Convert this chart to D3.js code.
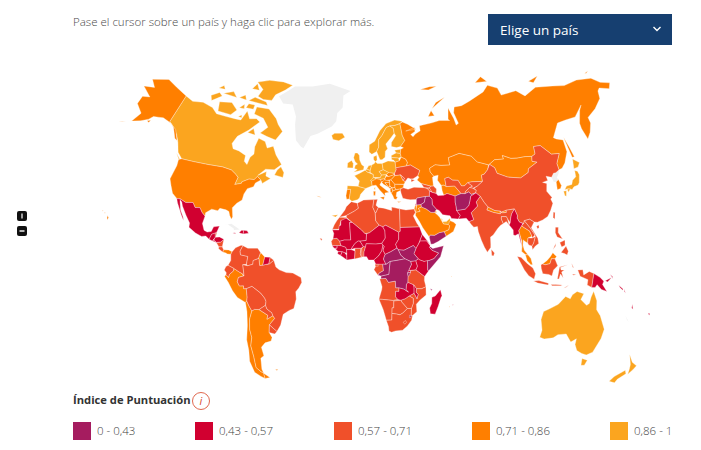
<!DOCTYPE html>
<html lang="es"><head><meta charset="utf-8">
<script src="https://cdn.jsdelivr.net/npm/d3@7"></script>
<style>html,body{margin:0;padding:0;background:#fff;overflow:hidden}svg{display:block}text{font-family:"Open Sans",sans-serif}</style>
</head><body><svg id="c" width="701" height="450"></svg>
<script>
const legendLabels=["0 - 0,43","0,43 - 0,57","0,57 - 0,71","0,71 - 0,86","0,86 - 1"];
const legendColors=["#a51c5f","#d10030","#f0502a","#ff7f00","#fba51f"];
const noDataColor="#f0f0f0";
// outlines: "lon,lat lon,lat ..."
const band0=[
["Syria","36,36 36.5,36.7 42,37.2 41,34.4 38.8,33.4 36,33.3 35.9,34.8"],
["Iraq","42,37.2 44.5,37.2 46,35.8 46,33 48.5,30.5 47.8,30 47,29.1 44.8,29.2 42,31 39,32.2 38.8,33.4 41,34.4"],
["Afghanistan","61,36.5 65,37.5 67.5,37.3 70,38 71.5,36.7 74.5,37.3 71,36 70,33.5 69,31.5 66.5,29.9 61,29.5 61,31.5 60.7,33.5"],
["Yemen","42.7,16.5 43.3,17.5 46,17.3 49,18.6 52,19 53.1,16.7 48,14 45,12.8 43.5,12.7"],
["South Sudan","23.5,10 27,9.7 32.8,12.2 34.3,10.5 33,7.8 35.5,5 33.9,4 30.8,3.6 27.5,5 25,7"],
["Somalia","43.2,11.4 44.5,10.4 51.2,11.8 49,6 41.5,-1.7 41,-1 41,4 42,4 45,5 48,8 44,9.5 42.7,11"],
["CAR","15.5,7.5 19,9 22.8,11 23.5,10 25,7 27.5,5 22.5,4.2 18.5,3.6 16,2 14.5,5"],
["DRC","12.2,-6 13,-5.8 13,-4.5 17.7,-3.5 18,0 18.5,3.6 22.5,4.2 27.5,5 30.8,3.6 31.3,2 29.6,-1.4 29,-2.7 29.3,-4.4 29.3,-8 28.5,-9 28.3,-12 29.8,-13.4 27,-11.7 24,-11 22,-11 21.7,-7.3 17.5,-8 16,-5.8"],
["Congo","13,-4.5 17.7,-3.5 18,0 18.5,3.6 16,2 14,2.2 14.5,-1.5 12,-2.8 11.2,-4"],
["Burundi","29,-2.7 30.7,-2.4 30,-4.4 29.3,-4.4"],
["Eswatini","31,-25.9 32,-26 32,-27 31,-27.2"],
["Comoros","43.2,-11.4 44.4,-12 43.6,-12.4"]
];
const band1=[
["Mexico","-117.1,32.5 -114.8,32.5 -111,31.3 -106.5,31.7 -104.5,29.5 -101.5,29.7 -99.5,27.5 -97.2,25.9 -97.8,22.3 -96,19 -94,18.2 -91.5,18.6 -90.5,21 -87,21.5 -88,18.5 -89,17.9 -91,17.2 -92.2,14.6 -94.5,16.2 -97,15.9 -101,17.4 -105.5,20 -105.7,22 -109,25.5 -112.5,29.5 -113.5,31.3 -114.8,32 -115.5,30"],
["Baja","-117.1,32.5 -115.5,30 -112,25.5 -109.8,23 -110.5,24.5 -113,27.5 -114.7,31.5 -114.8,32.5"],
["Guatemala","-92.2,14.6 -91,17.2 -89,17.9 -88.6,15.8 -90,13.8"],
["Honduras","-88.6,15.8 -86,16 -83.2,15 -84.8,13.5 -87.5,13.2 -89.3,14.3"],
["El Salvador","-90,13.8 -89.3,14.3 -87.7,13.2"],
["Haiti","-74.4,18.5 -71.7,18 -71.7,19.8 -73,19.9"],
["Dominican Republic","-71.7,18 -68.5,18.5 -69.5,19.7 -71.7,19.9"],
["Jamaica","-78.3,18.3 -76.3,18 -76.8,18.5"],
["Suriname","-57.2,6 -54,5.8 -54.5,2.3 -56.5,1.9 -58,1.5"],
["Iran","44.8,39.7 46.5,39 49,38.4 50,37.3 53.8,37.3 56,38 61,36.5 60.7,33.5 61,31.5 61,29.5 63,27 61.6,25.2 57.3,25.7 56.5,27 52,27.8 50,30 48.5,30.5 46,33 46,35.8 44.5,37.2"],
["Pakistan","61,29.5 66.5,29.9 69,31.5 70,33.5 71,36 74.5,37.3 77,35.5 74,33 74.5,31 70,28 71,24.5 68,23.7 66.5,25.4 61.6,25.2 63,27"],
["Myanmar","92.4,21 93.3,22 94,24 95,26 97.3,28.3 98.5,25 98,24 99,22 101,21.2 100,20.3 97.8,18 98.5,14 98.7,10 98,14 97.5,16.5 95.5,15.8 94.3,16 94.5,18.5"],
["PNG","141,-2.6 145,-4.3 147.7,-6 147.2,-7.5 150.5,-10.5 147,-9.8 144,-7.7 143,-9 141,-9.1"],
["New Britain","148.5,-5.8 152,-4.2 150,-6.3"],
["New Ireland","150.8,-2.8 153,-4.8 152.4,-3.8"],
["Solomon","157,-7.5 160,-9 160,-9.6 158,-8.5"],
["Solomon2","160.5,-9 162,-10.7 161,-10"],
["Vanuatu","167,-15 168,-17 167,-16.5"],
["Fiji","177.3,-17.5 178.6,-17.7 178.2,-18.3"],
["Mauritania","-17,21 -13,21 -13,23 -12,23.5 -12,26 -8.7,27.3 -5,25 -6.5,25 -5.5,15.5 -9.5,15.5 -12.2,14.8 -14,16.5 -16.4,16.2 -16,19"],
["Mali","-12.2,14.8 -9.5,15.5 -5.5,15.5 -6.5,25 -4.8,25 1,21 3.2,19 4.2,19 4,15.3 0.2,14.9 -1,15 -3,13.5 -5.3,10.3 -8,10.2 -8.5,11.5 -11.4,12.4"],
["Guinea-Bissau","-16.7,12.4 -13.7,12.5 -13.7,11 -15.5,11"],
["Guinea","-13.7,12.5 -11.4,12.4 -8.5,11.5 -8,10.2 -7.7,8.4 -9,8.5 -10.5,9 -13,9.2 -15,10.8 -13.7,11"],
["Sierra Leone","-13,9.2 -10.5,9 -11.4,7 -13.3,7.9"],
["Liberia","-11.4,7 -10.5,9 -9,8.5 -7.7,7 -7.5,4.4"],
["Ivory Coast","-8,10.2 -5.3,10.3 -2.8,9.5 -3,5.1 -7.5,4.4 -7.7,7 -7.7,8.4"],
["Burkina Faso","-5.3,10.3 -3,13.5 -1,15 0.2,14.9 2.3,12 0.9,11 -2.8,11"],
["Niger","0.2,14.9 4,15.3 4.2,19 6,19.5 12,23.5 14.2,22.6 15.5,20.5 15.7,16.5 13.6,13.7 10,13.3 4,13.5 3.6,11.7 2.3,12"],
["Nigeria","2.7,6.3 2.7,9 3.6,11.7 4,13.5 10,13.3 13.6,13.7 14.2,12.5 13.5,9.5 11.5,6.7 8.7,4.5 5.5,4.4 4.3,6.3"],
["Chad","14.2,22.6 16,23.4 24,19.5 23.9,15.7 22,13 22.8,11 19,9 15.5,7.5 14.2,9.9 15,12 14.2,12.5 13.6,13.7 15.7,16.5 15.5,20.5"],
["Cameroon","8.7,4.5 11.5,6.7 13.5,9.5 14.2,12.5 15,12 14.2,9.9 15.5,7.5 14.5,5 16,2 9.8,2.2"],
["Sudan","24,19.5 25,20 25,22 37,22 38.5,18 37,15 36,13 34.3,10.5 32.8,12.2 27,9.7 23.5,10 22.8,11 22,13 23.9,15.7"],
["Eritrea","37,15 38.5,18 43.2,12.5 41,14.5 37,14.5"],
["Ethiopia","36,13 37,14.5 41,14.5 43,12 42.7,11 44,9.5 48,8 45,5 42,4 39,3.5 36,4.5 35.5,5 33,7.8 34.3,10.5"],
["Kenya","33.9,4 35.5,5 36,4.5 39,3.5 41,4 41,-1 41.5,-1.7 39.3,-4.7 33.9,-1 34.8,1"],
["Uganda","30.8,3.6 33.9,4 34.8,1 33.9,-1 29.6,-1.4 31.3,2"],
["Rwanda","29,-1.4 30.7,-1.4 30.7,-2.4 29,-2.7"],
["Zambia","22,-13 24,-13 24,-11 27,-11.7 29.8,-13.4 28.3,-12 28.5,-9 29.3,-8 32.9,-9.4 33.2,-11 33.3,-14 30.3,-15.5 28,-17 25.3,-17.8 23.5,-17.5 22,-16"],
["Malawi","32.9,-9.4 34.7,-11.5 34.5,-13.5 35.8,-14.5 35.2,-17 34.3,-15.5 33.3,-14 33.2,-11"],
["Madagascar","49.3,-12 48,-13.5 46.3,-15.5 44.3,-16.2 44.4,-19.5 43.3,-22 44,-25 47,-25.2 48.5,-21 50,-16 50.5,-15.4"],
["Mauritius","57.3,-20 57.8,-20.1 57.5,-20.5"],
["Lebanon","35,33 35.7,33.2 36.5,34.5 36,34.6"]
];
const band2=[
["Belize","-89,17.9 -88,18.5 -88.3,16 -88.9,16"],
["Nicaragua","-87.5,13 -84.8,13.5 -83.2,15 -83.6,11 -85.7,11"],
["Costa Rica","-85.7,11 -83.6,11 -82.6,9.5 -83,8.3 -85.7,10"],
["Colombia","-77.3,8.6 -75.5,10.7 -72,12.2 -71.3,11.5 -72.5,9 -72,7 -67.5,6.2 -67.8,2 -70,1.8 -69.5,-4.2 -70.5,-3 -72,-2.2 -75.2,-0.2 -78.8,1.4 -77.5,4 -77.9,7.2"],
["Venezuela","-71.3,11.5 -72,12.2 -68,10.6 -62,10.7 -60,8.4 -61,5 -60.7,5.2 -64,4 -64,2 -67,1.2 -67.8,2 -67.5,6.2 -72,7 -72.5,9"],
["French Guiana","-54,5.8 -51.6,4.2 -54,2.2 -54.5,2.3"],
["Ecuador","-78.8,1.4 -75.2,-0.2 -75.5,-1.5 -78.3,-3.4 -79,-5 -80.3,-3.4 -80,-2.5 -81,-1 -80,0.8"],
["Bolivia","-69,-11 -65.4,-9.8 -60.5,-13.5 -58.3,-16.3 -57.7,-18 -58.2,-20 -62.6,-22.2 -65.5,-22 -67.2,-22.8 -68.5,-20 -69.5,-17.5 -69,-15.5"],
["Paraguay","-58.2,-20 -57.7,-22 -55,-24 -54.6,-25.6 -58.6,-27.3 -57.7,-25.3 -62.6,-22.2"],
["Brazil","-59.8,1.3 -60.7,5.2 -64,4 -64,2 -67,1.2 -70,1.8 -69.5,-4.2 -73,-5 -74,-7.3 -73,-9.5 -70.5,-9.5 -70.6,-11 -69,-11 -65.4,-9.8 -60.5,-13.5 -58.3,-16.3 -57.7,-18 -58.2,-20 -57.7,-22 -55,-24 -54.6,-25.6 -53.7,-27 -57.6,-30.2 -53.4,-33.7 -50.5,-30.5 -48.5,-26 -48,-25 -44,-23 -41,-22 -39,-17 -39,-13 -37,-11 -35,-8 -35.3,-5.3 -40,-2.8 -44,-2.5 -48,-1 -50,0.5 -51.6,4.2 -54,2.2 -56.5,1.9 -58,1.5"],
["Uruguay","-57.6,-30.2 -53.4,-33.7 -55,-34.9 -58.4,-34"],
["Ukraine","22.7,49 24,50.8 23.7,51.5 31,52 34,52.3 40,49.6 38.3,47.2 35,46 33.5,46 33.6,44.5 36,45.2 31.5,46.5 29.6,45 28.2,45.5 29.2,46.5 26.6,48.2 22.8,48"],
["Moldova","26.6,48.2 29.2,46.5 28.2,45.5"],
["Uzbekistan","56,45 58.5,45.5 61,44 64.5,43.7 66,41 68,41 70.5,42.3 73,40.5 71,40 68,38.3 67.5,37.3 65,37.5 61.5,41.3 56,41.3"],
["Kyrgyzstan","70.5,42.3 73.5,42.5 80.2,42.2 76,40.3 73,39.5 71,40 73,40.5"],
["Tajikistan","67.5,37.3 68,38.3 71,40 73,39.5 75,38.5 74.5,37.3 71.5,36.7 70,38"],
["Georgia","40,43.5 46,42 45,41.2 41.5,41.5"],
["Armenia","43.5,41 45,41.2 46.5,39.5 44.8,39.7"],
["Azerbaijan","45,41.2 46,42 47.8,42 49.5,40.5 49,38.4 46.5,39"],
["Turkey","26.3,41.7 28,42 31,41.2 35,42 41.5,41.5 43.5,41 44.8,39.7 44.5,37.2 42,37.2 36.5,36.7 36,36 32,36 30,36.3 27.3,37 26.3,39.5 26,40.8"],
["China","73.6,39.5 75,38.5 74.5,37.3 77,35.5 79,32.5 81,30.2 85,28.3 88.2,27.9 89,27.4 92,28 97.3,28.3 98.5,25 98,24 99,22 101.5,21.2 102.2,22.5 105.5,23 108,21.6 110,21.3 113.5,22.2 117,23.5 119.5,26 121.8,29 121,31 122,31.5 119.5,34.5 120.5,37.8 118,38.5 121.5,39 121.2,40.8 124.3,40 126.5,41.5 128,41.5 130.7,42.4 131,45 135,48.5 130,48.9 125,53 120.5,53.2 119.7,50.3 117,49.6 116,47.7 119,47 112,45 111,43.5 105,41.7 97,42.8 91,45 90.5,47.5 87.7,49.2 85.5,47 82.5,45.3 80.5,45 80.2,42.2 76,40.3"],
["Hainan","109,19.5 110.5,20 110.5,18.8 109.5,18.3"],
["Taiwan","120.2,23 121,25.2 122,25 121,22"],
["India","68,23.7 71,24.5 70,28 74.5,31 74,33 77,35.5 79,32.5 81,30.2 80,28.8 84,27.4 88.2,26.5 88.2,27.9 89,26.9 92,27 92,28 97.3,28.3 95,26 94,24 93.3,22 92,24 91.5,25 88.5,25.2 88.2,24 89,21.8 87,21 85,19.5 82,16.5 80.2,15.5 80,12 79.8,10.3 77.5,8 76,10.5 74.5,14 73,18.5 72.8,21 70.5,20.8 69,22.3"],
["Bangladesh","88.2,24 88.5,25.2 91.5,25 92,24 92.4,21 91,22.7 89,21.8"],
["Sri Lanka","80,9.5 81.8,7.5 81,6 80,6.3"],
["Laos","100,20.3 101.5,21.2 102.2,22.5 105,19 107.5,15.5 105.5,14.2 105.5,15 104.5,17.5 101,19.5"],
["Vietnam","102.2,22.5 105.5,23 108,21.6 105.7,19 109,14 109.2,11.5 107,10.4 105,8.7 104.8,10.4 106,11.7 107.5,14.7 107.5,15.5 105,19"],
["Cambodia","102.5,12 103,14.3 105.5,14.2 107.5,14.7 106,11.7 104.8,10.4 103,11"],
["Sumatra","95.3,5.6 97.5,5.2 101,2 104,0 106,-3 105.5,-5.8 102,-4 99,-1"],
["Java","105.3,-6.8 108.5,-6.5 114.5,-7.7 114.5,-8.7 108,-7.8"],
["Kalimantan","109,1.5 110,1.9 111.5,1.5 114.5,2 115.8,4.3 117.8,4.2 119,1 116.5,-1 116,-4 114,-3.3 110.3,-2.9 109,-0.2"],
["Sulawesi","119.5,-5.5 120,0.5 125,1.5 120.5,0.2 121,-1 123,-1 121.5,-2 123,-5 121,-3 120.5,-5.5"],
["West Papua","131,-1 134,-0.8 135,-3.3 138,-1.6 141,-2.6 141,-9.1 138,-8 138,-5.5 133,-4"],
["Sunda","116,-8.3 119,-8.3 123,-8.4 122,-8.9 117,-9"],
["Timor","124,-10 127,-8.4 125.5,-9.5"],
["Halmahera","127.5,2 128.5,0 127.8,0.5"],
["Seram","128,-3 130.5,-3.2 129,-3.5"],
["Luzon","120.5,18.5 122.3,18.4 121.8,16 124,13 120.8,14 120,16"],
["Mindanao","122,7 125.5,9.8 126.5,7.5 125.5,5.8 124,6.5"],
["Visayas","122,11.5 125.3,12.5 125,10.2 122.8,9.5"],
["Palawan","117.3,8.4 119.5,11.3 119.2,10"],
["Morocco","-5.9,35.8 -2,35.1 -1.2,32.5 -3.7,31 -8.7,28.7 -13,27.7 -9.8,31.5 -9,33.2"],
["Western Sahara","-13,27.7 -8.7,27.7 -8.7,26 -12,26 -13,21.3 -17,21.3 -16,23.7 -14.5,26"],
["Algeria","-2,35.1 2,36.7 8.6,36.9 8,33 9.5,30.2 9.8,26 12,23.5 6,19.5 3.2,19 1,21 -4.8,25 -8.7,27.7 -8.7,28.7 -3.7,31 -1.2,32.5"],
["Tunisia","8.6,36.9 11,37 10,34 11.5,32.9 10,30.2 9.5,30.2 8,33"],
["Libya","11.5,32.9 15,32.4 20,31 20,32.8 25,31.7 25,20 24,19.5 16,23.4 14.2,22.6 12,23.5 9.8,26 9.5,30.2 10,30.2"],
["Egypt","25,31.7 29,31 34.2,31.3 34.9,29.5 33.5,27.8 35.5,24 37,22 25,22"],
["Senegal","-16.4,16.2 -14,16.5 -12.2,14.8 -11.4,12.4 -16.7,12.4 -17.4,14.7"],
["Ghana","-2.8,11 0.9,11 0.5,8 1.2,6 -3,5 -2.8,9.5"],
["Togo","0.9,11 1.4,11 1.6,6.2 1.2,6 0.5,8"],
["Benin","1.4,11 2.3,12 3.6,11.7 2.7,9 2.7,6.3 1.6,6.2"],
["Gabon","9.8,1 11.3,2.2 14,2.2 14.5,-1.5 12,-2.8 11.2,-4 8.8,-1"],
["Equatorial Guinea","9.5,2.2 11.3,2.2 11.3,1 9.5,1"],
["Tanzania","33.9,-1 39.3,-4.7 39.3,-7 40.4,-10.4 37.8,-11.5 34.7,-11.5 32.9,-9.4 29.3,-8 29.3,-4.4 30.7,-2.4 30.7,-1.4"],
["Angola","12.2,-6 16,-5.8 17.5,-8 21.7,-7.3 22,-11 24,-11 24,-13 22,-13 22,-16 23.5,-17.5 20.5,-18 13.8,-17.4 11.8,-17.3 13.5,-12 13.7,-10.5"],
["Mozambique","34.7,-11.5 37.8,-11.5 40.4,-10.4 40.7,-15 37,-17.8 34.9,-20 35.5,-24 32.9,-26 32,-26 32,-22.3 33,-19.5 32.9,-16.8 30.3,-15.5 33.3,-14 34.3,-15.5 35.2,-17 35.8,-14.5 34.5,-13.5"],
["Zimbabwe","25.3,-17.8 28,-17 30.3,-15.5 32.9,-16.8 33,-19.5 32,-22.3 29.5,-22.3 26,-19"],
["Namibia","11.8,-17.3 13.8,-17.4 20.5,-18 23.5,-17.5 25.3,-17.8 21,-18.3 21,-22 20,-22 20,-28.5 16.5,-28.6 14.5,-23"],
["Botswana","21,-18.3 25.3,-17.8 26,-19 29.5,-22.3 26.8,-24.7 25,-25.7 22.8,-25.3 20,-25 20,-22 21,-22"],
["South Africa","16.5,-28.6 20,-28.5 20,-25 22.8,-25.3 25,-25.7 26.8,-24.7 29.5,-22.3 32,-22.3 32,-26 32.9,-26 32.5,-28.5 30,-31.5 27,-33.7 22.5,-34.1 20,-34.8 18.3,-34.2 18,-32"],
["Lesotho","27.2,-29.6 28.7,-28.7 29.4,-29.7 28.2,-30.6"],
["Cape Verde","-24.5,16.6 -23,16 -23.5,15"]
];
const band3=[
["Alaska","-141,69.6 -141,60.3 -137,59 -133,55.5 -131,55 -135,58.5 -140,60 -146,60.5 -149,60 -152,59.5 -154,58 -158,56.3 -163,54.8 -160,58.5 -165,60.5 -165,63 -161,64 -168,65.6 -162,67 -166,68.5 -157,71.2 -150,70.5"],
["USA","-123,49 -115,49 -105,49 -95,49 -88.5,48.2 -84.5,46.5 -82.5,45.3 -83,42 -79,42.8 -79,43.5 -75,45 -71.5,45 -70,46.5 -67,45 -70,43.5 -70.5,41.7 -74,40.6 -75.5,38 -76,35 -79,33.3 -81.3,31 -80,26.5 -80.5,25.2 -82,27 -83,29 -85,29.7 -89,30.2 -90,29 -94,29.5 -97.3,27.5 -97.2,25.9 -99.5,27.5 -101.5,29.7 -104.5,29.5 -106.5,31.7 -111,31.3 -114.8,32.5 -117.1,32.5 -120.5,34.5 -122.5,37.5 -124.3,40.3 -124,46 -124.7,48.4"],
["Hawaii","-156,20.6 -155,19.8 -155.8,19 -156,19.7"],
["Oahu","-158.3,21.6 -157.6,21.4 -158,21.2"],
["Kauai","-159.8,22.2 -159.3,22.1 -159.5,21.8"],
["Aleutians","-169.9,52.8 -166,53.8 -168,53.2"],
["Kodiak","-154.5,57.3 -152.5,58 -153,57"],
["Panama","-83,8.3 -82.6,9.5 -79.5,9.5 -77.3,8.6 -77.9,7.2 -80,7.4 -81,7.9"],
["Guyana","-60,8.4 -57.2,6 -58,1.5 -59.8,1.3 -60.7,5.2 -61,5"],
["Peru","-81.3,-4.5 -80.3,-3.4 -79,-5 -78.3,-3.4 -75.5,-1.5 -75.2,-0.2 -72,-2.2 -70.5,-3 -69.9,-4.2 -73,-5 -74,-7.3 -73,-9.5 -70.5,-9.5 -70.6,-11 -69,-11 -69,-15.5 -69.5,-17.5 -70.4,-18.3 -75,-15.5 -77.5,-12 -79.5,-7.5"],
["Chile","-70.4,-18.3 -69.5,-17.5 -68.5,-20 -67.2,-22.8 -69.5,-27 -70.5,-32 -70,-36 -71.5,-40 -71.8,-45 -72.5,-50 -70,-52 -68.5,-52.5 -68.6,-55 -71,-54 -74.5,-52 -75.5,-47 -73.7,-42 -73.5,-37 -71.5,-30 -70.3,-23"],
["Argentina","-67.2,-22.8 -65.5,-22 -62.6,-22.2 -57.7,-25.3 -58.6,-27.3 -54.6,-25.6 -53.7,-27 -57.6,-30.2 -58.4,-34 -57,-36.5 -58,-38.3 -62,-39 -65,-41 -65,-45 -67.5,-46 -69,-51 -68.5,-52.5 -70,-52 -72.5,-50 -71.8,-45 -71.5,-40 -70,-36 -70.5,-32 -69.5,-27"],
["Tierra del Fuego","-68.6,-52.7 -68.6,-55 -65,-54.8"],
["Falklands","-60,-51.5 -58,-51.5 -59,-52"],
["Azores","-28.5,38.6 -25.3,37.9 -27,38"],
["Reunion","55.3,-21 55.8,-21 55.5,-21.4"],
["Seychelles","55.3,-4.5 55.8,-4.5 55.5,-5"],
["Russia","28,60.5 30,59.9 28,59.4 27.5,57.6 28,56 31,55 32,53.5 31,52 34,52.3 40,49.6 38.3,47.2 39,46.5 37.5,45.3 40,43.5 46,42 47.8,42 48,46 49,46.5 47,48.5 47,50.2 51,51.5 55,51 61,50.8 61,54 69,55.3 77,53.5 80,50.8 87,49 92,50.8 98,50.5 98,52 103,50.3 107,50 113,50 117,49.6 119.7,50.3 120.5,53.2 125,53 130,48.9 135,48.5 131,45 130.7,42.4 133,42.8 136,44.5 140.3,48.5 141,53 137,54 135.5,54.7 142,59.3 148,59.5 155,59.5 163,62.5 160,61 156,57 155.7,55 156.7,51 160,53 163,56 163,58 170,60 177,62.5 179,64.8 181,65.5 187,64.4 189.9,66 184,67 180,69 170,70 160,69.8 152,71 140,72.5 130,71 125,73.5 113,73.5 112,76 105,77.7 100,76 87,74 80,73 74,73 72.5,71 74,67 72,66.5 71.5,69 69,73 67,69 68,68.5 60,69 54,68.5 44,68 44,66 40,65 38,64 36.5,65 40,66 40,67.5 33,66.5 41,66.8 35,69 31,70 29,69.5 29.5,67.5 30,65 31.5,62.8"],
["Novaya Zemlya","52,71 56,73.5 68,76.8 60,75.5 55,73 57,71"],
["Franz Josef","48,80.5 56,81 62,80.8 55,80"],
["Sakhalin","142,54 143,50 143.5,46 142,46 142,50"],
["Severnaya Zemlya","95,79.5 105,79 100,81"],
["New Siberian","137,75 145,75.5 140,74"],
["Wrangel","178,71 181,71.3 179,70.8"],
["Kazakhstan","47,48.5 49,46.5 52,46.8 51,44.5 53,42 54.7,42 56,41.3 56,45 58.5,45.5 61,44 64.5,43.7 66,41 68,41 70.5,42.3 73.5,42.5 80.2,42.2 80.5,45 82.5,45.3 85.5,47 87,49 80,50.8 77,53.5 69,55.3 61,54 61,50.8 55,51 51,51.5 47,50.2"],
["Turkmenistan","53,42 54.7,42 56,41.3 61.5,41.3 65,37.5 61,36.5 56,38 53.8,37.3 53,39.5"],
["Mongolia","87.7,49.2 92,50.8 98,50.5 98,52 103,50.3 107,50 113,50 117,49.6 116,47.7 119,47 112,45 111,43.5 105,41.7 97,42.8 91,45 90.5,47.5"],
["Belarus","23.5,54 26.5,54.5 28,56 31,55 32,53.5 31,52 23.7,51.5"],
["Portugal","-9,41.9 -6.7,41.9 -7,39.5 -7.3,37.2 -9,37 -9.5,38.8"],
["Italy","7,45.9 7.5,43.7 10,44 12.5,41.5 16,38.5 15.8,40 18.5,40.2 16,41.8 12.5,44 13.8,45.6 13,46.6 10.3,47"],
["Sicily","12.5,38 15.5,38.2 15,36.7"],
["Sardinia","8.3,41 9.7,41 9.5,39 8.5,39"],
["Slovenia","13.5,45.5 13,46.6 16,46.8 15.5,45.5"],
["Croatia","13.8,45.2 16,46.5 19,45.8 19,45 16,45 18.5,42.5 15,44.2"],
["Bosnia","16,45 19,45 19.2,43.3 18.5,42.6"],
["Serbia","19,45.9 20,46.2 22.5,44 22.5,42.4 20.5,42.3 19.2,43.3"],
["Montenegro","18.5,42.5 19.2,43.3 20,42.5 19.3,41.9"],
["Albania","19.3,41.9 20.5,42.3 21,40.6 20,39.7 19.4,40.5"],
["North Macedonia","20.5,42.3 22.5,42.4 23,41.3 21,40.8"],
["Greece","20,39.7 21,40.8 23,41.3 26.3,41.7 26,40.8 23.5,40 23,38 24,37.7 23,36.5 21.7,36.8 21,38.3"],
["Crete","23.6,35.5 26.3,35.2 24.5,35"],
["Bulgaria","22.5,44 28.5,43.6 27.8,42 26.3,41.7 23,41.3 22.5,42.4"],
["Romania","20,46.2 22.8,48 26.6,48.2 28.2,45.5 29.6,45 28.6,43.7 22.5,44"],
["Hungary","16,46.8 17,48 18.5,47.8 22,48.4 22.8,48 20,46.2 16.5,45.9"],
["Slovakia","17,48.7 18.8,49.6 22.5,49 22,48.4 18.5,47.8"],
["Jordan","36,33.3 38.8,33.4 39,32.2 37,31.5 38,30 35,29.5 35.5,31.5"],
["Israel","34.3,31.3 35,29.5 35.5,31.5 35.7,33.2 35,33"],
["Saudi Arabia","35,29.5 38,30 37,31.5 39,32.2 42,31 44.8,29.2 47,29.1 48.5,28 50,26.5 51,24.7 52,23 55,22.7 55.7,22 55,20 52,19 49,18.6 46,17.3 43.3,17.5 42.7,16.5 39,21.5 37,25 34.9,28"],
["Oman","55,22.7 55.7,22 55,20 52,19 53.1,16.7 57.7,19 59.8,22.5 58.5,23.7 56.5,24.5 55.8,24"],
["Kuwait","47.8,30 48.4,29 47,29.1"],
["Nepal","80,28.8 81,30.2 85,28.3 88.2,27.9 88.2,26.5 84,27.4"],
["Bhutan","89,26.9 89,27.4 92,28 92,27"],
["Thailand","97.8,18 100,20.3 101,19.5 104.5,17.5 105.5,15 103,14.3 102.5,12 101,12.7 100,13.5 99.5,11 100,8.5 102,6.2 100.3,6.5 98.3,8 98.7,10 99,13"],
["Malaysia","100.3,6.5 102,6.2 103.4,4.5 104,1.5 103,1.6 101,3.5"],
["Sabah-Sarawak","109.7,1.9 111.5,1.5 114.5,2 115.8,4.3 117.8,4.2 119,5.2 117,7 115.3,5.3 113,3.5 110,1.9"],
["South Korea","126.6,37.8 128.3,38.6 129.4,36 128.5,34.8 126.3,34.5"]
];
const band4=[
["Canada","-141,69.6 -135,69 -128,70 -120,69.5 -115,68 -108,68 -100,68 -96,68 -94,71.5 -90,69 -85,69.5 -81.5,68.5 -87,65 -93,62 -94.5,59 -92.5,57 -88,56.5 -82.5,55 -82,52.5 -79.5,51.3 -79,54.5 -77,56 -78,59 -77.5,62.5 -72,61.5 -69,59 -65,60 -61.5,56.5 -56,52.5 -60,50 -66,50 -70,47 -65,49 -64.5,47 -61,46 -65.5,43.5 -67,45 -70,46.5 -71.5,45 -75,45 -79,43.5 -79,42.8 -83,42 -82.5,45.3 -84.5,46.5 -88.5,48.2 -95,49 -105,49 -115,49 -123,49 -127,51 -130,54.5 -133,57 -137,59 -141,60.3"],
["Baffin","-62,66 -65,62.5 -72,63.5 -78,64.5 -74,67 -80,70 -88,71 -88,73.5 -78,73.5 -70,70.5 -67,68.5"],
["Victoria","-105,69 -115,69 -117,72 -108,73 -102,71"],
["Banks","-123,71.5 -117,74 -120,74.8 -125,73"],
["Ellesmere","-90,77 -85,76.3 -78,76.5 -76,78.5 -68,80.5 -62,82.3 -70,83 -82,82.8 -92,81.5 -87,79.5"],
["Devon","-96,75 -80,74.6 -82,75.7 -92,76.5"],
["Southampton","-87,64 -81,63.5 -84,65.8"],
["Newfoundland","-59,47.7 -53,46.8 -53,49 -56,51.5 -58,50"],
["Vancouver","-128,50.7 -123.5,48.4 -125,48.8"],
["Axel Heiberg","-96,79 -90,79 -92,81"],
["Melville","-117,75 -106,75 -110,76.5"],
["Bathurst","-104,75.2 -98,75 -100,76.5"],
["Prince Patrick","-122,76 -117,76.3 -119,77.3"],
["Somerset","-96,72.5 -90,72.5 -90,74 -95,74"],
["King William","-99,69 -96,68.8 -97,69.8"],
["Prince of Wales","-101,72 -97,72 -98,73.5"],
["Iceland","-24,65.5 -22,66.4 -16,66.5 -13.7,65 -18,63.5 -22.5,64"],
["UK","-5.5,50 1.3,51.2 1.7,52.7 0,53.5 -1.6,55.5 -2,57.6 -3.5,58.6 -5.2,58.5 -6,56.5 -4.8,54.8 -3,53.8 -4.5,53.2 -5,51.7 -3,51.3"],
["Ireland","-10,52 -6,52 -6,54 -7.3,55.3 -10,54.2"],
["Spain","-9,43.7 -1.8,43.4 3.2,42.4 0,39.5 -0.7,37.7 -2,36.8 -5.5,36 -7.3,37.2 -7,39.5 -6.7,41.9 -9,41.9"],
["France","-1.8,43.4 3.2,42.4 7.5,43.7 7,45.9 8.2,47.6 8.2,49 4.5,50 2.5,51 -1.5,49.5 -4.7,48.4 -1.2,46"],
["Belgium","2.5,51 4.5,50 6,50 6,51 3.5,51.4"],
["Netherlands","3.5,51.4 6,51 7,53.3 4.8,53"],
["Germany","6,51 6,50 8.2,49 8.2,47.6 13,47.5 13.8,48.7 12.2,50.3 15,51 14.3,53.9 11,54 9.5,54.8 8.8,54 7,53.3"],
["Switzerland","6.2,46.2 8.2,47.6 10.3,47 10,46.3 7,45.9"],
["Austria","9.6,47.3 13,47.5 13.8,48.7 17,48.7 16,46.8 13,46.6 10.3,47"],
["Denmark","8.3,55.8 9.5,54.8 10.8,55.5 10.5,57.6 8.2,57"],
["Norway","5,59 7,58 10.5,59.2 12,61 12,64 14.5,65.5 18,68.5 21,69 25,69 29,69.5 31,70.3 25,71 18,70 13,67.5 9,63.5 5,62"],
["Sweden","10.5,59.2 12.8,55.6 14.3,55.5 16.5,56.5 16.8,59 18.5,60 17.3,62 21.5,64.5 24,66 23.5,68 21,69 18,68.5 14.5,65.5 12,64 12,61"],
["Finland","21,69 23.5,68 24,66 25,65 21.5,62.5 21.3,60.8 25,60.2 28,60.5 31.5,62.8 30,65 29.5,67.5 29,69.5 25,69"],
["Estonia","23.5,59.2 28,59.4 27.5,57.6 24.5,58"],
["Latvia","21,57 24.5,58 27.5,57.6 28,56 26,55.7 21,56.2"],
["Lithuania","21,56.2 26,55.7 26.5,54.5 23.5,54 22.5,55 21.2,55.2"],
["Poland","14.3,53.9 18.5,54.8 22.5,54.4 23.5,54 24,50.8 22.7,49 19,49.4 15,51"],
["Czechia","12.2,50.3 15,51 18.8,49.6 17,48.7 13.8,48.7"],
["Corsica","8.7,42.5 9.5,43 9.4,41.5"],
["UAE","51.5,24.2 54,24.2 56.3,25.8 56.4,24.8 55.7,22 55,22.7 52,23"],
["Qatar","50.8,25 51.6,25 51.3,26.1"],
["Japan Honshu","130.9,34 132.5,35.4 136,35.7 137,37.3 139.5,38.5 140,41 141.5,40.5 142,39 140.9,36 139.8,35 137,34.6 135.5,33.6 133,34.2"],
["Hokkaido","140,41.7 141.8,45.4 145,43.5 143,42"],
["Kyushu","130,33.5 131.8,33.5 131,31.2 130.2,31.5"],
["Shikoku","132.5,34 134.5,34.2 133,32.8"],
["Australia","114,-22 113.5,-26 115.5,-31 115,-34.4 118,-35 123.5,-34 126,-32.3 131,-31.5 135,-34.8 138,-33 138,-35.5 140,-38 143.5,-38.8 146.5,-39 150,-37.3 153,-31 153.5,-27 149,-21.5 146,-19 145.3,-15 142.5,-10.8 141.5,-13.5 141,-16.5 139.5,-17.5 135.5,-15 136.8,-12.2 132.5,-11.3 130,-13 129,-15 126,-14 122.2,-18 117,-20.6"],
["Tasmania","144.7,-40.8 148.3,-41 148,-43.2 146,-43.5"],
["NZ North","172.7,-34.5 175.5,-37 178.5,-37.7 177,-39.5 175.3,-41.6 174.8,-39.8 174.7,-38"],
["NZ South","172.8,-40.6 174.2,-41.7 171,-44.5 170.5,-46 167,-46.2 168.5,-44"],
["Canary","-18,28.6 -14,29 -15.5,27.8"]
];
const noData=[
["Greenland","-73,78.2 -68,76 -60,76 -55,72 -54,69 -52,66 -50,63 -45,60.5 -43,60 -40,65 -35,66 -25,69 -22,71 -22,74 -18,76 -18,80 -12,81.5 -30,83.6 -45,82.5 -60,82 -65,80.5"],
["Cuba","-85,22 -80,23 -74.2,20.2 -77.7,19.9 -78,20.7 -82,22.5"],
["North Korea","124.3,40 126.5,41.5 128,41.5 130.7,42.4 129.5,41 127.5,39.5 128.3,38.6 126.6,37.8 125,38"],
["New Caledonia","164,-20 167,-22.3 165.5,-21.5"]
];
const bands=[band0,band1,band2,band3,band4];
const widthByLat=d3.scaleLinear().domain([0,20,40,60,70,78,90]).range([1,.97,.92,.82,.75,.70,.68]);

function mapRaw(l,p){
  const a=Math.abs(p)*180/Math.PI, q=l/Math.PI, s=Math.sin(p);
  let lift=s*(16*q*q+41*q*q*q*q);
  if(q>0&&p>0) lift+=20*q*(1-Math.pow(q,6))*s;
  return [l*widthByLat(a)*0.4667, Math.tan(p/2)+lift/205];
}
const projection=d3.geoProjection(mapRaw).rotate([-10,0]).scale(205).translate([376,268]);
const path=d3.geoPath(d3.geoTransform({point(lon,lat){const p=projection([lon,lat]);this.stream.point(p[0],p[1]);}}));
const poly=s=>{const pts=s.trim().split(/\s+/).map(d=>d.split(",").map(Number));pts.push(pts[0]);return {type:"Polygon",coordinates:[pts]};};

const svg=d3.select("#c");
const features=[];
noData.forEach(d=>features.push({name:d[0],fill:noDataColor,geo:poly(d[1])}));
[4,3,2,1,0].forEach(i=>bands[i].forEach(d=>features.push({name:d[0],fill:legendColors[i],geo:poly(d[1])})));
svg.append("g").selectAll("path").data(features).join("path")
  .attr("d",d=>path(d.geo)).attr("fill",d=>d.fill)
  .attr("stroke",d=>d.fill===noDataColor?"none":"#fff").attr("stroke-width",0.45).attr("stroke-opacity",0.75).attr("stroke-linejoin","round");

svg.append("text").attr("x",73).attr("y",26).attr("font-size",11.5).attr("fill","#4a4a4a").attr("font-weight",300).text("Pase el cursor sobre un país y haga clic para explorar más.");
svg.append("rect").attr("x",488).attr("y",14).attr("width",184).attr("height",31).attr("fill","#163f70");
svg.append("text").attr("x",500).attr("y",35).attr("font-size",13.5).attr("fill","#fff").text("Elige un país");
svg.append("path").attr("d","M653.5 27 L657 30.5 L660.5 27").attr("fill","none").attr("stroke","#fff").attr("stroke-width",1.4);

svg.append("rect").attr("x",17).attr("y",211).attr("width",10).attr("height",10).attr("rx",2).attr("fill","#111");
svg.append("path").attr("d","M22 213.5V218.5").attr("stroke","#fff").attr("stroke-width",1.2);
svg.append("rect").attr("x",17).attr("y",226).attr("width",10).attr("height",10).attr("rx",2).attr("fill","#111");
svg.append("path").attr("d","M19.5 231H24.5").attr("stroke","#fff").attr("stroke-width",1.4);

svg.append("text").attr("x",73).attr("y",404).attr("font-size",11.2).attr("font-weight",700).attr("fill","#333").text("Índice de Puntuación");
svg.append("circle").attr("cx",201).attr("cy",401).attr("r",8.5).attr("fill","#fff").attr("stroke","#e0684f").attr("stroke-width",1);
svg.append("text").attr("x",201).attr("y",405).attr("text-anchor","middle").attr("font-size",11).attr("font-style","italic").attr("font-family","Liberation Serif").attr("fill","#d9482b").text("i");
const legendXs=[73,195,334,472,610];
const lg=svg.append("g").selectAll("g").data(legendLabels).join("g").attr("transform",(d,i)=>`translate(${legendXs[i]},422)`);
lg.append("rect").attr("width",18).attr("height",18).attr("fill",(d,i)=>legendColors[i]);
lg.append("text").attr("x",24).attr("y",13).attr("font-size",11.5).attr("font-weight",300).attr("fill","#444").text(d=>d);
</script></body></html>
